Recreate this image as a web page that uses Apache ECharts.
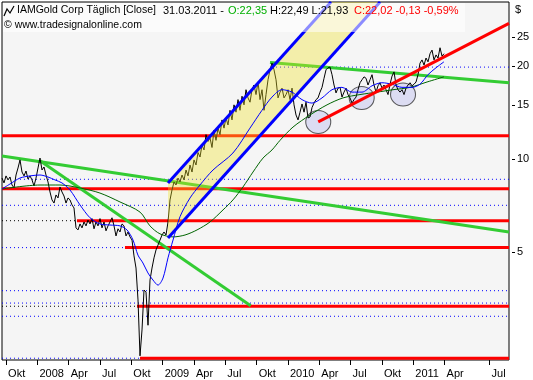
<!DOCTYPE html>
<html><head><meta charset="utf-8">
<script src="https://cdn.jsdelivr.net/npm/echarts@6/dist/echarts.min.js"></script>
<style>html,body{margin:0;padding:0;background:#fff}#c{width:533px;height:380px}</style>
</head><body><div id="c"></div>
<script>
// ---- axes ----
const xTickMonths = [0,3,6,9,12,15,18,21,24,27,30,33,36,39,42,46.31];
const xTickLabels = ['Okt','2008','Apr','Jul','Okt','2009','Apr','Jul','Okt','2010','Apr','Jul','Okt','2011','Apr','Jul'];
const yTickValues = [5,10,15,20,25];
const xMin = -0.39, xMax = 48.17, yMin = 2.22, yMax = 32.4;

// ---- price (close), sampled every ~4 trading days, months since Oct 2007 ----
const closeStartMonth = -0.39, closeStepMonth = 0.19157;
const close = [8.67,8.36,8.81,8.55,8.74,8.23,8.05,8.87,9.35,9.93,9.07,8.81,9.14,8.61,8.81,8.55,8.17,8.67,9.35,10.07,
9.21,9.42,8.87,8.42,7.81,7.36,7.19,7.64,7.47,8.11,7.81,7.58,7.19,7.47,7.36,7.09,6.93,5.97,5.88,6.15,
5.97,6.24,6.06,6.33,6.15,6.40,5.93,6.24,6.06,6.40,5.97,6.24,5.84,6.06,6.24,6.44,6.06,5.62,5.93,5.79,
6.15,6.06,5.62,5.79,5.58,5.45,4.84,4.42,3.48,2.29,2.78,3.75,3.69,2.88,4.04,4.42,4.77,5.06,5.25,5.45,
5.66,5.79,5.66,6.24,7.36,7.93,8.42,8.23,8.67,8.42,8.87,8.55,9.21,8.81,9.56,9.07,9.93,9.56,10.5,10.15,
11.1,10.7,12.0,11.4,11.7,10.9,12.4,11.5,12.6,12.0,13.4,12.6,13.6,12.9,14.4,13.4,15.0,14.2,15.6,14.4,
16.0,15.0,16.8,15.8,15.3,16.8,17.4,16.2,17.8,15.6,16.8,14.4,16.2,18.1,19.5,20.5,19.5,18.1,15.8,16.5,
17.0,15.8,16.2,16.8,15.6,17.0,15.0,13.9,13.4,14.2,15.1,14.2,15.3,13.6,13.7,14.7,15.2,15.6,15.8,16.5,
17.1,18.3,19.5,19.8,19.9,18.8,17.4,16.4,17.0,17.1,15.9,16.5,17.0,16.2,15.8,15.2,15.6,15.9,16.8,17.7,
18.1,18.5,18.3,17.4,18.1,18.8,17.4,16.5,17.3,17.7,17.0,17.4,16.8,16.2,17.5,18.6,19.2,17.4,16.8,16.5,
16.8,16.2,17.0,17.4,17.7,17.3,17.5,17.8,18.8,20.5,21.0,20.2,21.3,20.7,22.0,22.6,21.0,21.8,21.3,23.0,
21.6,22.0];

// ---- moving averages ----
const maFastMonths = [-0.39,0.37,1.33,2.29,3.25,4.01,4.68,5.35,6.12,7.08,8.04,8.99,9.95,10.91,11.58,12.16,12.63,13.11,13.59,14.07,
14.55,15.03,15.51,15.99,16.66,17.62,18.57,19.82,21.73,23.36,24.51,25.47,26.43,27.39,28.34,29.30,30.26,31.22,32.17,33.13,
34.09,35.05,36.00,36.96,37.92,38.88,39.64,40.41,41.18,41.94];
const maFastValues = [7.99,8.29,8.67,8.81,8.87,8.74,8.55,8.36,7.93,7.09,6.44,6.15,6.10,6.06,5.88,5.45,4.87,4.59,4.26,4.04,
3.89,4.10,4.77,5.45,6.49,7.47,8.23,9.21,10.46,12.6,14.4,15.9,16.8,16.5,15.6,15.2,15.8,16.8,17.1,16.5,
16.5,17.3,17.7,17.5,17.1,17.1,17.5,18.8,19.8,20.7];
const maSlowMonths = [-0.39,3.25,5.16,7.08,8.99,10.91,12.83,13.78,14.74,15.99,17.14,18.29,19.53,20.78,21.73,22.69,23.65,24.61,25.47,26.24,
27.48,29.11,30.74,32.27,33.90,35.53,37.06,38.69,40.32,41.94];
const maSlowValues = [7.99,8.23,8.23,8.05,7.75,7.25,6.72,6.06,5.71,5.58,5.66,5.88,6.24,6.83,7.36,8.11,9.07,10.07,10.7,11.5,
12.7,13.9,15.0,15.8,16.2,16.5,16.8,17.1,17.8,18.5];

// ---- horizontal support / resistance levels ----
const redLevels = [11.9, 8.0, 6.30, 5.15, 3.32, 2.25];
const redStartMonths = [-0.39, -0.39, 6.79, 11.39, 12.54, 12.83];
const blueDotLevels = [19.9, 8.59, 7.07, 5.15, 3.73, 3.40, 3.08, 2.25];
const blueDotStartMonths = [25.47, 1.33, -0.39, -0.39, -0.39, -0.39, -0.39, -0.39];
const blackDotLevels = [6.30, 3.32];
const blackDotEndMonths = [6.79, 12.54];

// ---- trend lines [month, price] ----
const greenTrendA = [[-0.39, 10.23], [48.17, 5.79]];
const greenTrendB = [[3.25, 9.87], [23.43, 3.33]];
const greenTrendC = [[25.28, 20.6], [48.17, 17.7]];
const redTrendUp = [[29.9, 13.2], [48.17, 27.6]];
const channelUpper = [[15.51, 8.36], [31.12, 32.4]];
const channelLower = [[15.51, 5.53], [35.82, 32.4]];
const circleMonths = [29.9, 34.06, 38.02];
const circleValues = [13.2, 15.8, 16.2];

const chart = echarts.init(document.getElementById('c'), null, {renderer: 'canvas'});
const FONT = 'Liberation Sans';
const closeData = close.map((v, i) => [closeStartMonth + i * closeStepMonth, v]);
const zip = (a, b) => a.map((v, i) => [v, b[i]]);

const series = [];
series.push({
  type: 'scatter', data: zip(circleMonths, circleValues), symbol: 'circle', symbolSize: [25, 23],
  itemStyle: {color: 'rgba(205,205,240,0.8)', borderColor: '#333', borderWidth: 1}, z: 2
});
blueDotLevels.forEach((v, i) => series.push({
  type: 'line', data: [[blueDotStartMonths[i], v], [xMax, v]], symbol: 'none',
  lineStyle: {color: '#0000ff', width: 1, type: [1, 3]}, z: 2
}));
blackDotLevels.forEach((v, i) => series.push({
  type: 'line', data: [[xMin, v], [blackDotEndMonths[i], v]], symbol: 'none',
  lineStyle: {color: '#000', width: 1, type: [1, 3]}, z: 2
}));
redLevels.forEach((v, i) => series.push({
  type: 'line', data: [[redStartMonths[i], v], [xMax, v]], symbol: 'none',
  lineStyle: {color: '#ff0000', width: 3}, z: 3
}));
[greenTrendA, greenTrendB, greenTrendC].forEach(d => series.push({
  type: 'line', data: d, symbol: 'none', lineStyle: {color: '#33cc33', width: 3}, z: 3
}));
series.push({type: 'line', data: closeData, symbol: 'none', lineStyle: {color: '#000', width: 1}, z: 4});
series.push({
  type: 'custom', data: [[20, 10]], z: 5,
  renderItem: (params, api) => {
    const pts = [channelUpper[0], channelUpper[1], channelLower[1], channelLower[0]].map(p => api.coord(p));
    return {type: 'polygon', shape: {points: pts}, style: {fill: 'rgba(240,228,40,0.36)'}};
  }
});
series.push({type: 'line', data: zip(maSlowMonths, maSlowValues), symbol: 'none', smooth: 0.3, lineStyle: {color: '#006400', width: 1}, z: 6});
series.push({type: 'line', data: zip(maFastMonths, maFastValues), symbol: 'none', smooth: 0.3, lineStyle: {color: '#0000ff', width: 1}, z: 6});
[channelUpper, channelLower].forEach(d => series.push({
  type: 'line', data: d, symbol: 'none', lineStyle: {color: '#0000ff', width: 3}, z: 7
}));
series.push({type: 'line', data: redTrendUp, symbol: 'none', lineStyle: {color: '#ff0000', width: 3}, z: 7});
// y-axis tick marks (outside, right of the plot)
series.push({
  type: 'custom', data: yTickValues.map(v => [xMax, v]), z: 8, clip: false,
  renderItem: (params, api) => {
    const p = api.coord([api.value(0), api.value(1)]);
    return {type: 'line', shape: {x1: p[0] + 3, y1: Math.round(p[1]) + 0.5, x2: p[0] + 6, y2: Math.round(p[1]) + 0.5}, style: {stroke: '#000', lineWidth: 1}};
  }
});

const hdrFont = '11px "Liberation Sans"';
chart.setOption({
  animation: false,
  backgroundColor: '#ffffff',
  grid: {left: 2, right: 24, top: 2, bottom: 20, show: true, backgroundColor: '#f5f5f5', borderColor: '#000', borderWidth: 1},
  xAxis: {
    type: 'value', min: xMin, max: xMax, position: 'bottom',
    axisLine: {show: false, onZero: false}, splitLine: {show: false},
    axisTick: {show: true, customValues: xTickMonths, length: 5, lineStyle: {color: '#000'}},
    axisLabel: {customValues: xTickMonths, align: 'left', margin: 8, padding: [0, 0, 0, 2], color: '#000', fontSize: 11, fontFamily: FONT,
      formatter: v => { const i = xTickMonths.findIndex(t => Math.abs(t - v) < 1e-6); return i >= 0 ? xTickLabels[i] : ''; }}
  },
  yAxis: {
    type: 'log', logBase: 10, min: yMin, max: yMax, position: 'right',
    axisLine: {show: false, onZero: false}, splitLine: {show: false}, minorTick: {show: false},
    axisTick: {show: false},
    axisLabel: {customValues: yTickValues, margin: 8, color: '#000', fontSize: 11, fontFamily: FONT,
      formatter: v => String(Math.round(v))}
  },
  graphic: [
    {type: 'rect', shape: {x: 3, y: 3, width: 462, height: 29}, style: {fill: 'rgba(255,255,255,0.55)'}, z: 100},
    {type: 'polyline', shape: {points: [[4, 16], [7, 9], [10, 13], [14, 6]]}, style: {stroke: '#000', lineWidth: 1.2, fill: null}, z: 101},
    {type: 'text', x: 17, y: 5, style: {text: 'IAMGold Corp Täglich [Close]', fill: '#000', font: '10.5px "Liberation Sans"'}, z: 101},
    {type: 'text', x: 163, y: 5, style: {text: '31.03.2011 -', fill: '#000', font: hdrFont}, z: 101},
    {type: 'text', x: 228, y: 5, style: {text: 'O:22,35', fill: '#00b000', font: hdrFont}, z: 101},
    {type: 'text', x: 270, y: 5, style: {text: 'H:22,49 L:21,93', fill: '#000', font: hdrFont}, z: 101},
    {type: 'text', x: 354, y: 5, style: {text: 'C:22,02 -0,13 -0,59%', fill: '#ff0000', font: hdrFont}, z: 101},
    {type: 'text', x: 4, y: 20, style: {text: '© www.tradesignalonline.com', fill: '#000', font: '10.5px "Liberation Sans"'}, z: 101},
    {type: 'text', x: 515, y: 4, style: {text: '$', fill: '#000', font: hdrFont}, z: 101}
  ],
  series: series
});
</script></body></html>
